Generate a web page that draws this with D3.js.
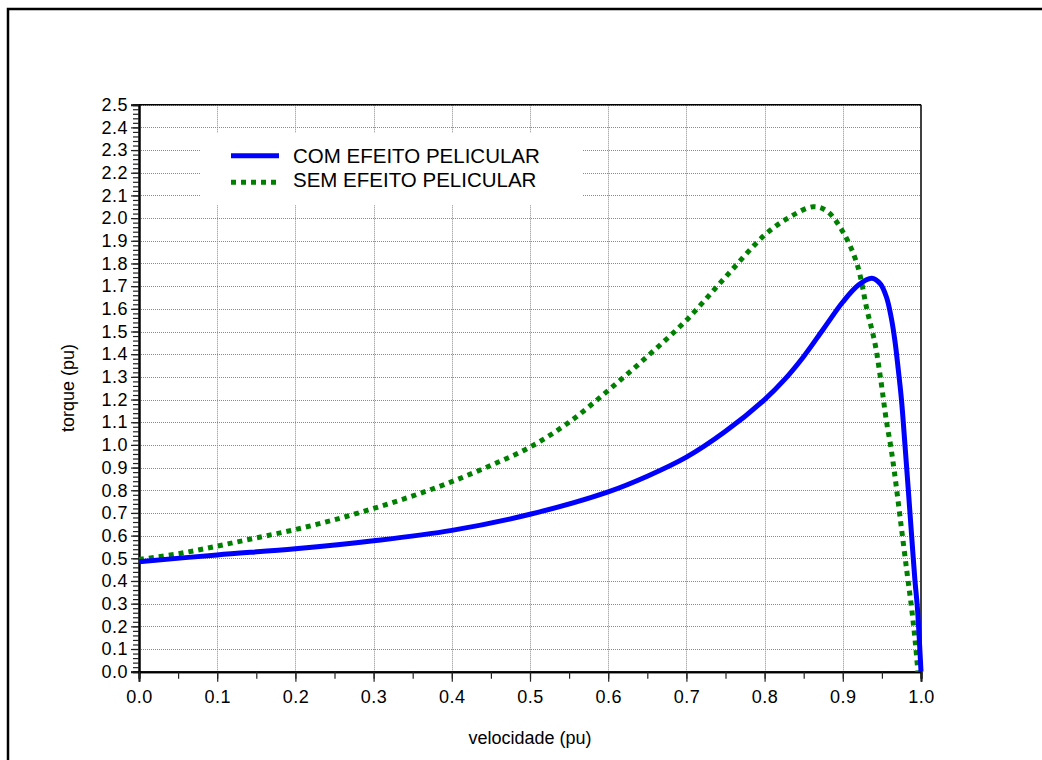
<!DOCTYPE html>
<html>
<head>
<meta charset="utf-8">
<script src="https://cdn.jsdelivr.net/npm/d3@7"></script>
<style>
  body { margin: 0; background: #fff; }
  svg { display: block; font-family: "Liberation Sans", Arial, sans-serif; }
</style>
</head>
<body>
<svg id="chart" width="1042" height="760"></svg>
<script>
// torque x velocidade, com efeito pelicular
const velocidadeCom = [0.00, 0.10, 0.20, 0.30, 0.40, 0.50, 0.60, 0.65, 0.70, 0.75, 0.80, 0.826, 0.85, 0.875, 0.90, 0.92, 0.937, 0.948, 0.956, 0.962, 0.967, 0.971, 0.975, 0.9795, 0.9838, 0.988, 0.9923, 0.9953, 1.00];
const torqueCom     = [0.485, 0.515, 0.542, 0.577, 0.623, 0.694, 0.793, 0.862, 0.946, 1.06, 1.20, 1.29, 1.39, 1.51, 1.63, 1.705, 1.735, 1.71, 1.65, 1.56, 1.45, 1.33, 1.20, 1.0, 0.8, 0.6, 0.4, 0.287, 0.0];

// torque x velocidade, sem efeito pelicular
const velocidadeSem = [0.00, 0.05, 0.10, 0.15, 0.20, 0.25, 0.30, 0.35, 0.40, 0.45, 0.50, 0.55, 0.60, 0.65, 0.70, 0.75, 0.80, 0.83, 0.862, 0.88, 0.90, 0.918, 0.931, 0.941, 0.948, 0.956, 0.961, 0.966, 0.974, 0.982, 0.988, 0.993, 0.996];
const torqueSem     = [0.495, 0.52, 0.554, 0.59, 0.627, 0.67, 0.72, 0.775, 0.838, 0.91, 0.99, 1.10, 1.24, 1.39, 1.55, 1.74, 1.925, 2.00, 2.05, 2.03, 1.94, 1.80, 1.595, 1.45, 1.30, 1.10, 1.00, 0.88, 0.66, 0.44, 0.28, 0.12, 0.0];

const legendLabels = ['COM EFEITO PELICULAR', 'SEM EFEITO PELICULAR'];
const xTicks = [0.0, 0.1, 0.2, 0.3, 0.4, 0.5, 0.6, 0.7, 0.8, 0.9, 1.0];
const yTicks = d3.range(0, 26).map(i => i / 10);

const svg = d3.select('#chart');
const plotLeft = 139, plotRight = 921, plotTop = 104.7, plotBottom = 671.7;

const x = d3.scaleLinear().domain([0, 1]).range([plotLeft, plotRight]);
const y = d3.scaleLinear().domain([0, 2.5]).range([plotBottom, plotTop]);

// outer frame (only top/left visible)
svg.append('rect')
  .attr('x', 8).attr('y', 9)
  .attr('width', 1100).attr('height', 800)
  .attr('fill', 'none').attr('stroke', '#000').attr('stroke-width', 2.5);

// grid
const grid = svg.append('g').attr('stroke', '#8a8a8a').attr('stroke-width', 1).attr('stroke-dasharray', '1,1');
grid.selectAll('.gx').data(xTicks.slice(1, -1)).join('line')
  .attr('x1', d => Math.round(x(d)) + 0.5).attr('x2', d => Math.round(x(d)) + 0.5)
  .attr('y1', plotTop).attr('y2', plotBottom);
grid.selectAll('.gy').data(yTicks.slice(1)).join('line')
  .attr('y1', d => Math.round(y(d)) + 0.5).attr('y2', d => Math.round(y(d)) + 0.5)
  .attr('x1', plotLeft).attr('x2', plotRight);

// top and right borders
svg.append('line').attr('x1', plotLeft).attr('x2', plotRight).attr('y1', plotTop).attr('y2', plotTop)
  .attr('stroke', '#000').attr('stroke-width', 1.5);
svg.append('line').attr('x1', plotRight).attr('x2', plotRight).attr('y1', plotTop).attr('y2', plotBottom)
  .attr('stroke', '#000').attr('stroke-width', 1.5);

// legend background
svg.append('rect').attr('x', 201).attr('y', 133).attr('width', 381).attr('height', 72).attr('fill', '#fff');

// axes
const yAxis = svg.append('g').attr('transform', `translate(${plotLeft},0)`)
  .call(d3.axisLeft(y).tickValues(yTicks).tickSize(8).tickPadding(3).tickFormat(d3.format('.1f')));
const yMinor = svg.append('g').attr('transform', `translate(${plotLeft},0)`)
  .call(d3.axisLeft(y).tickValues(d3.range(0, 126).map(i => i / 50)).tickSize(6).tickFormat(''));
const xAxis = svg.append('g').attr('transform', `translate(0,${plotBottom})`)
  .call(d3.axisBottom(x).tickValues(xTicks).tickSize(10).tickPadding(8.5).tickFormat(d3.format('.1f')));
const xMinor = svg.append('g').attr('transform', `translate(0,${plotBottom})`)
  .call(d3.axisBottom(x).tickValues(d3.range(0, 21).map(i => i / 20)).tickSize(7).tickFormat(''));

[yAxis, yMinor, xAxis, xMinor].forEach(g => {
  g.select('.domain').attr('stroke', '#000').attr('stroke-width', 2);
  g.selectAll('.tick line').attr('stroke', '#222').attr('stroke-width', 1.2);
  g.selectAll('text').attr('fill', '#000').style('font-size', '18px')
    .style('font-family', '"Liberation Sans", Arial, sans-serif').style('letter-spacing', '0.5px');
});

// axis titles
svg.append('text').attr('x', 530).attr('y', 744).attr('text-anchor', 'middle')
  .style('font-size', '18px').text('velocidade (pu)');
svg.append('text').attr('transform', 'translate(74,388) rotate(-90)').attr('text-anchor', 'middle')
  .style('font-size', '18px').text('torque (pu)');

// curves
const line = d3.line().x(d => x(d[0])).y(d => y(d[1])).curve(d3.curveCatmullRom.alpha(0.5));
const semData = d3.zip(velocidadeSem, torqueSem);
const comData = d3.zip(velocidadeCom, torqueCom);

svg.append('path').datum(semData).attr('d', line)
  .attr('fill', 'none').attr('stroke', '#008000').attr('stroke-width', 5)
  .attr('stroke-dasharray', '5,5');
svg.append('path').datum(comData).attr('d', line)
  .attr('fill', 'none').attr('stroke', '#0000ff').attr('stroke-width', 5)
  .attr('stroke-linejoin', 'round');

// legend
const legend = svg.append('g');
legend.append('line').attr('x1', 231).attr('x2', 279).attr('y1', 155.7).attr('y2', 155.7)
  .attr('stroke', '#0000ff').attr('stroke-width', 5);
legend.append('line').attr('x1', 231).attr('x2', 281).attr('y1', 182.3).attr('y2', 182.3)
  .attr('stroke', '#008000').attr('stroke-width', 5).attr('stroke-dasharray', '5,5');
legend.selectAll('text').data(legendLabels).join('text')
  .attr('x', 293).attr('y', (d, i) => 162.7 + i * 24.6)
  .style('font-size', '20.5px').text(d => d);
</script>
</body>
</html>
